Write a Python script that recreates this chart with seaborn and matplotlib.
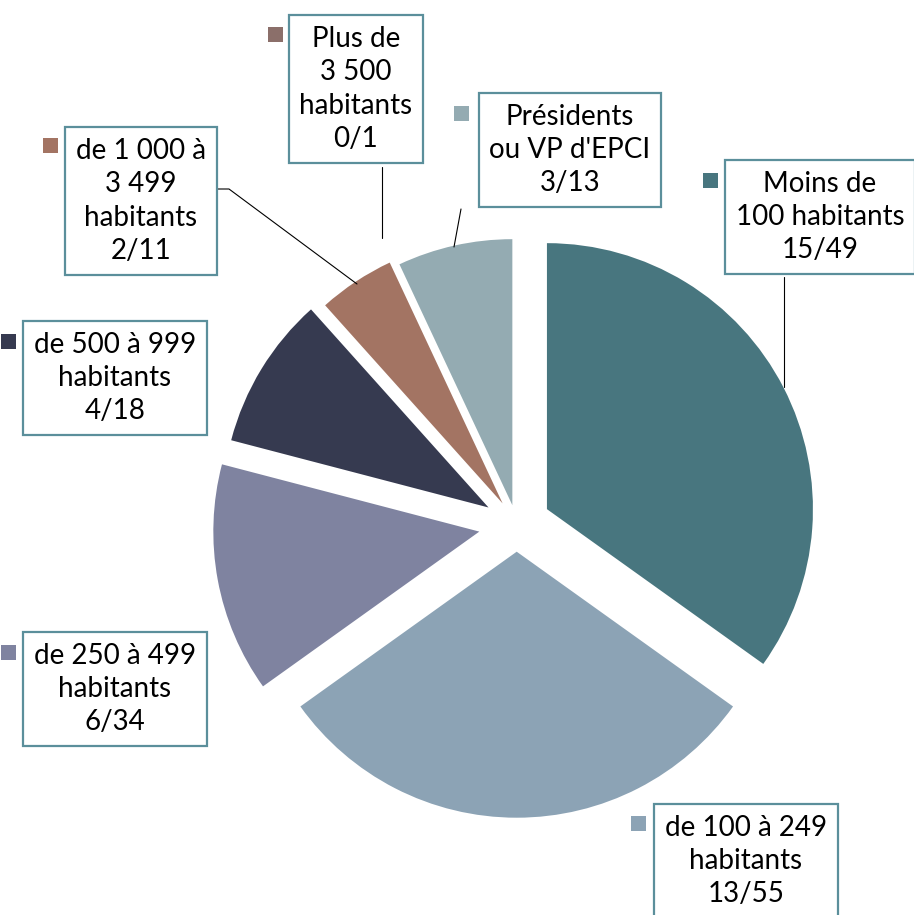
import matplotlib
matplotlib.use("Agg")
import matplotlib.pyplot as plt
from matplotlib.patches import Rectangle
import seaborn as sns

# data
categories = ["Moins de\n100 habitants", "de 100 à 249\nhabitants", "de 250 à 499\nhabitants",
              "de 500 à 999\nhabitants", "de 1 000 à\n3 499\nhabitants", "Plus de\n3 500\nhabitants",
              "Présidents\nou VP d'EPCI"]
elus = [15, 13, 6, 4, 2, 0, 3]
totals = [49, 55, 34, 18, 11, 1, 13]
colors = ["#48767f", "#8ca3b5", "#7f83a0", "#363a50", "#a37463", "#8b6f6a", "#94abb2"]

# layout (pixels, y from top)
W, H = 914, 915
center = (516.7, 524.7)
radius = 266
explode = [34, 27, 38, 33, 25.5, 20, 20]
box_centers = [(820, 217), (746, 861), (115, 689), (115, 378), (141, 201), (356, 89), (570, 150)]
marker_pos = [(710, 180), (638, 823), (8, 652), (8, 341), (50, 145), (275, 34), (461, 113)]
leaders = [[(784, 277), (784, 387)], None, None, None,
           [(217, 189), (229, 189), (357, 284)],
           [(382, 167), (382, 238)],
           [(461, 209), (454, 247)]]

sns.set_style("white")
plt.rcParams["font.family"] = ["Lato", "DejaVu Sans"]

fig = plt.figure(figsize=(W / 100, H / 100), dpi=100)
ax = fig.add_axes([0, 0, 1, 1])

ax.pie(elus, colors=colors, startangle=90, counterclock=False, radius=radius,
       center=(center[0], H - center[1]), explode=explode,
       wedgeprops=dict(linewidth=0))

for i, cat in enumerate(categories):
    bx, by = box_centers[i]
    ax.text(bx, H - by, f"{cat}\n{elus[i]}/{totals[i]}", ha="center", va="center",
            fontsize=20, linespacing=1.35, color="black", zorder=5,
            bbox=dict(boxstyle="square,pad=0.38", fc="white", ec="#5b8f9b", lw=1.6))
    mx, my = marker_pos[i]
    ax.add_patch(Rectangle((mx - 7.5, H - my - 7.5), 15, 15, fc=colors[i], ec="none", zorder=5))
    if leaders[i]:
        xs = [p[0] for p in leaders[i]]
        ys = [H - p[1] for p in leaders[i]]
        ax.plot(xs, ys, color="black", lw=0.8, zorder=4)

ax.set_xlim(0, W)
ax.set_ylim(0, H)
ax.set_aspect("equal")
ax.axis("off")

fig.savefig("out.png", dpi=100)
